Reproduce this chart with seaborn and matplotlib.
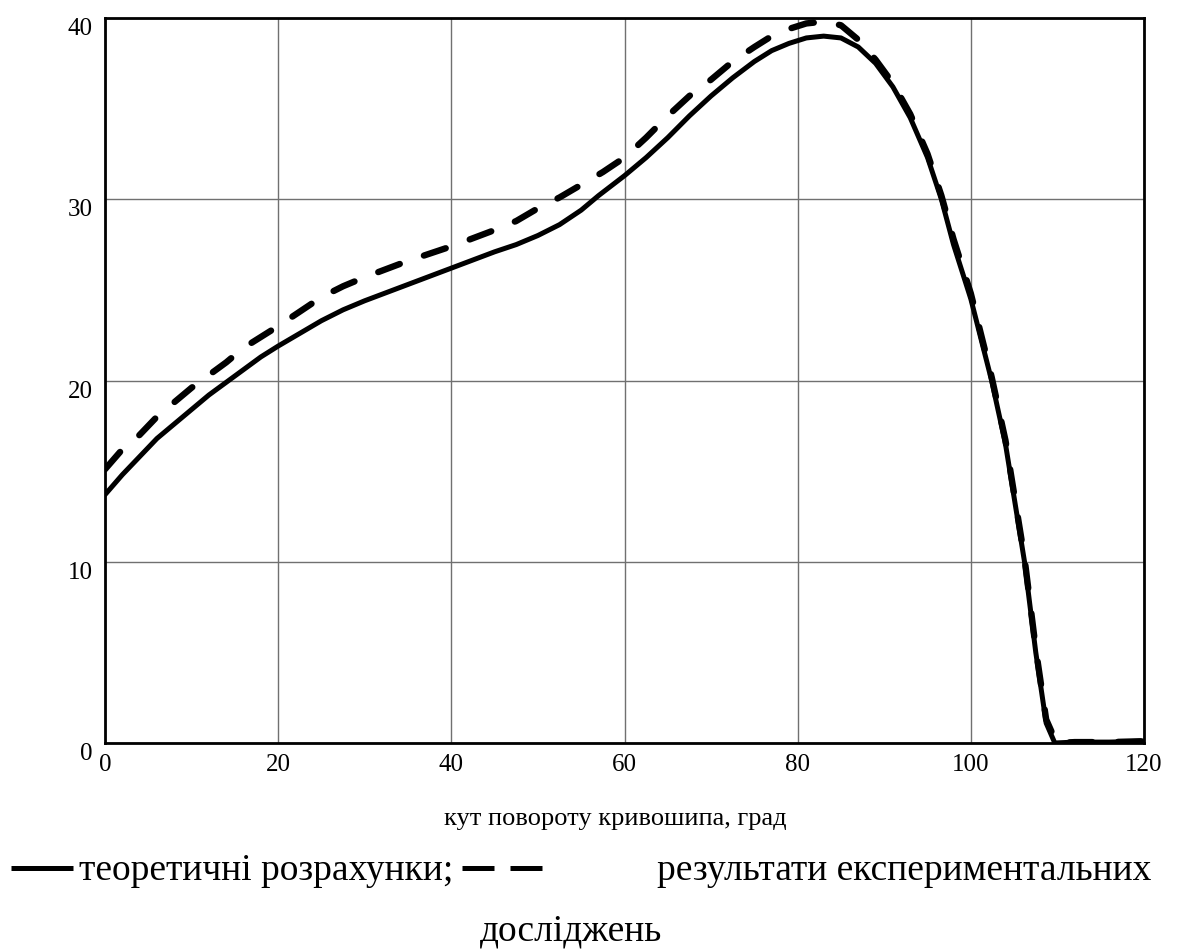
import numpy as np
import pandas as pd
import matplotlib
matplotlib.use("Agg")
import matplotlib.pyplot as plt
import seaborn as sns
from matplotlib.lines import Line2D

# ---- data ----
theory_x = [0, 2, 4, 6, 8, 10, 12, 14, 16, 18, 20, 22.5, 25, 27.5, 30, 35, 40, 45, 47.5,
            50, 52.5, 55, 57, 60, 62.5, 65, 67.5, 70, 72.5, 75, 77, 79, 81, 83, 85, 87,
            89, 91, 93, 95, 96.6, 98, 100, 102.4, 104, 106.2, 107.5, 108.7, 109.7, 112,
            116, 120]
theory_y = [13.7, 14.8, 15.8, 16.8, 17.6, 18.4, 19.2, 19.9, 20.6, 21.3, 21.9, 22.6, 23.3,
            23.9, 24.4, 25.3, 26.2, 27.1, 27.5, 28.0, 28.6, 29.4, 30.2, 31.3, 32.3, 33.4,
            34.6, 35.7, 36.7, 37.6, 38.2, 38.6, 38.9, 39.0, 38.9, 38.4, 37.5, 36.2, 34.5,
            32.3, 30.0, 27.5, 24.5, 20.0, 16.5, 10.0, 5.0, 1.1, 0.0, 0.05, 0.05, 0.1]

exper_x = [0, 2, 4, 6, 8, 10, 12, 14, 16, 18, 20, 22.5, 25, 27.5, 30, 35, 40, 45, 47.5,
           50, 52.5, 55, 57.5, 60, 62.5, 65, 67.5, 70, 72.5, 75, 77, 79, 81, 83, 85, 87,
           89, 91, 93, 95, 96.6, 98, 100, 102.4, 104, 106.2, 107.5, 108.7, 109.9, 112,
           116, 120]
exper_y = [15.1, 16.2, 17.0, 18.0, 18.8, 19.6, 20.3, 21.0, 21.8, 22.4, 23.0, 23.8, 24.6,
           25.2, 25.7, 26.6, 27.4, 28.3, 28.8, 29.5, 30.1, 30.8, 31.5, 32.3, 33.4, 34.6,
           35.7, 36.6, 37.6, 38.4, 39.0, 39.4, 39.7, 39.8, 39.6, 38.8, 37.7, 36.4, 34.7,
           32.5, 30.2, 27.8, 24.8, 20.2, 16.7, 10.2, 5.2, 1.3, 0.0, 0.05, 0.05, 0.1]

x_ticks = [0, 20, 40, 60, 80, 100, 120]
y_ticks = [0, 10, 20, 30, 40]
x_label = "кут повороту кривошипа, град"
legend_solid = "теоретичні розрахунки;"
legend_dash_1 = "результати експериментальних"
legend_dash_2 = "досліджень"

# ---- figure ----
sns.set_theme(style="white")
plt.rcParams["font.family"] = ["Liberation Serif", "DejaVu Serif"]
plt.rcParams["text.color"] = "black"

fig = plt.figure(figsize=(11.79, 9.5), dpi=100)
ax = fig.add_axes([105 / 1179, 1 - 743 / 950, (1144 - 105) / 1179, (743 - 18) / 950])

df_t = pd.DataFrame({"x": theory_x, "y": theory_y})
df_e = pd.DataFrame({"x": exper_x, "y": exper_y})

sns.lineplot(data=df_t, x="x", y="y", ax=ax, color="black", linewidth=3.6,
             solid_capstyle="round", solid_joinstyle="round", zorder=3)
sns.lineplot(data=df_e, x="x", y="y", ax=ax, color="black", linewidth=4.6,
             dashes=False, zorder=3)
ax.lines[-1].set_dashes((3.6, 4.0))
ax.lines[-1].set_dash_capstyle("round")
ax.lines[-1].set_dash_joinstyle("round")

ax.set_xlim(0, 120)
ax.set_ylim(0, 40)
ax.set_xticks(x_ticks)
ax.set_yticks(y_ticks)
ax.set_xticklabels([str(v) for v in x_ticks])
ax.set_yticklabels([str(v) for v in y_ticks])
ax.tick_params(axis="both", length=0, labelsize=18, colors="black")
ax.tick_params(axis="x", pad=8)
ax.tick_params(axis="y", pad=9)
for lbl in ax.get_yticklabels():
    lbl.set_verticalalignment("top")
ax.set_xlabel("")
ax.set_ylabel("")
ax.grid(True, color="#707070", linewidth=1.0)
for s in ax.spines.values():
    s.set_visible(True)
    s.set_color("black")
    s.set_linewidth(2.0)

# axis caption
fig.text(615 / 1179, 1 - 819 / 950, x_label, ha="center", va="center",
         fontsize=19, color="black")

# legend line
ly = 1 - 868 / 950
fig.add_artist(Line2D([11 / 1179, 73 / 1179], [ly, ly], transform=fig.transFigure,
                      color="black", linewidth=3.6, solid_capstyle="butt"))
fig.text(79 / 1179, 1 - 871 / 950, legend_solid, ha="left", va="center",
         fontsize=27, color="black")
fig.add_artist(Line2D([462 / 1179, 494 / 1179], [ly, ly], transform=fig.transFigure,
                      color="black", linewidth=3.6, solid_capstyle="butt"))
fig.add_artist(Line2D([510 / 1179, 542 / 1179], [ly, ly], transform=fig.transFigure,
                      color="black", linewidth=3.6, solid_capstyle="butt"))
fig.text(1151 / 1179, 1 - 871 / 950, legend_dash_1, ha="right", va="center",
         fontsize=27, color="black")
fig.text(571 / 1179, 1 - 931 / 950, legend_dash_2, ha="center", va="center",
         fontsize=27, color="black")

fig.savefig("out.png", dpi=100)
